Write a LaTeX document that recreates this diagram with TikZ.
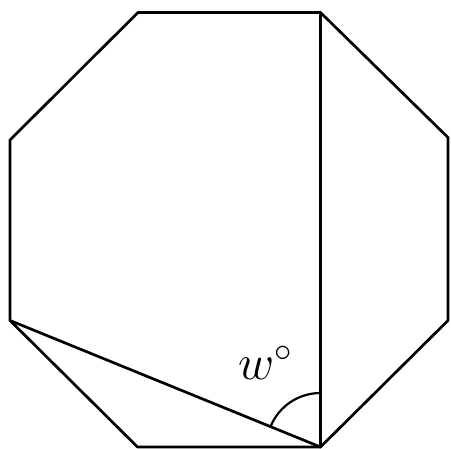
\documentclass[tikz,border=0pt]{standalone}
\begin{document}
\begin{tikzpicture}[x=0.5pt,y=-0.5pt,
  edge/.style={line width=1.35pt,line join=round,line cap=round},
  lbl/.style={inner sep=0pt,font=\fontsize{24}{28}\selectfont}]
\useasboundingbox (0,0) rectangle (451,449);
\coordinate (A) at (138,12.5);
\coordinate (B) at (320.5,12.5);
\coordinate (C) at (448,137.5);
\coordinate (D) at (448,320.5);
\coordinate (E) at (320.5,447);
\coordinate (F) at (137.5,447);
\coordinate (G) at (10,320.5);
\coordinate (H) at (10,140);
\coordinate (Ar) at (320.5,393);
\draw[edge] (A) -- (B) -- (C) -- (D) -- (E) -- (F) -- (G) -- (H) -- cycle;
\draw[edge] (B) -- (E);
\draw[edge] (G) -- (E);
\draw[line width=1.1pt] (Ar) arc[start angle=90,end angle=157.8,radius=27pt];
\node[lbl] (w) at (266,363) {$w^\circ$};
\end{tikzpicture}
\end{document}
